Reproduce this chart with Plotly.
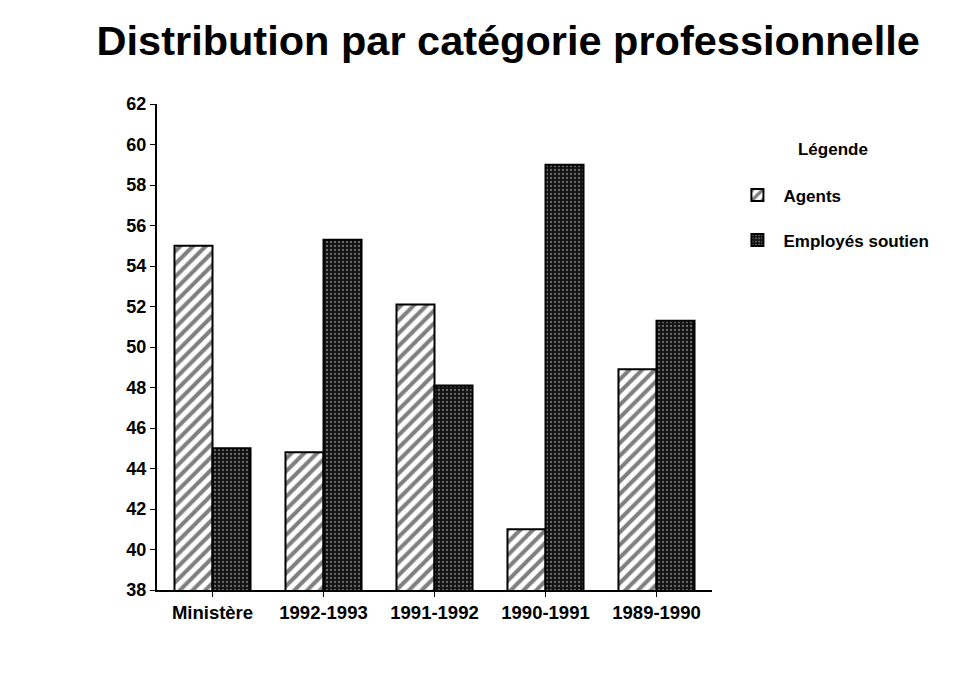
import plotly.graph_objects as go

categories = ["Ministère", "1992-1993", "1991-1992", "1990-1991", "1989-1990"]
agents = [55.0, 44.8, 52.1, 41.0, 48.9]
employes = [45.0, 55.3, 48.1, 59.0, 51.3]
y_ticks = list(range(38, 63, 2))

FONT = "Liberation Sans"

fig = go.Figure()

fig.add_trace(
    go.Bar(
        name="<b>Agents</b>",
        x=categories,
        y=agents,
        marker=dict(
            color="white",
            line=dict(color="black", width=2),
            pattern=dict(shape="/", fgcolor="black", bgcolor="white", size=9, solidity=0.45),
        ),
        legendgroup="a",
    )
)
fig.add_trace(
    go.Bar(
        name="<b>Employés soutien</b>",
        x=categories,
        y=employes,
        marker=dict(
            color="#111111",
            line=dict(color="black", width=2),
            pattern=dict(shape=".", fgcolor="#c8c8c8", bgcolor="#111111", size=4, solidity=0.25),
        ),
        legendgroup="b",
    )
)

# the page body has an 8px margin, so the figure is a bit smaller than the window
fig.update_layout(
    width=951,
    height=668,
    barmode="group",
    bargap=0.315,
    bargroupgap=0,
    paper_bgcolor="white",
    plot_bgcolor="white",
    margin=dict(l=149, r=247, t=96, b=86),
    font=dict(family=FONT, color="black"),
    title=dict(
        text="<b>Distribution par catégorie professionnelle</b>",
        font=dict(family=FONT, size=41.5, color="black"),
        xref="container",
        x=0.526,
        xanchor="center",
        yref="container",
        y=1 - 32 / 668,
        yanchor="middle",
    ),
    legend=dict(
        title=dict(text="<b>Légende</b><br> ", side="top center", font=dict(size=17)),
        font=dict(family=FONT, size=17),
        x=1.035,
        xanchor="left",
        y=0.94,
        yanchor="top",
        itemwidth=42,
        tracegroupgap=20,
        bgcolor="rgba(0,0,0,0)",
    ),
    showlegend=True,
)

fig.update_xaxes(
    showline=True,
    linecolor="black",
    linewidth=2,
    ticks="outside",
    ticklen=5,
    tickcolor="black",
    showgrid=False,
    tickfont=dict(family=FONT, size=18.5, color="black"),
    tickprefix="<b>",
    ticksuffix="</b>",
)
fig.update_yaxes(
    range=[38, 62],
    tickvals=y_ticks,
    ticktext=[f"<b>{v}</b>" for v in y_ticks],
    showline=True,
    linecolor="black",
    linewidth=2,
    ticks="outside",
    ticklen=5,
    tickcolor="black",
    showgrid=False,
    zeroline=False,
    tickfont=dict(family=FONT, size=18, color="black"),
)

fig.write_html("out.html")
